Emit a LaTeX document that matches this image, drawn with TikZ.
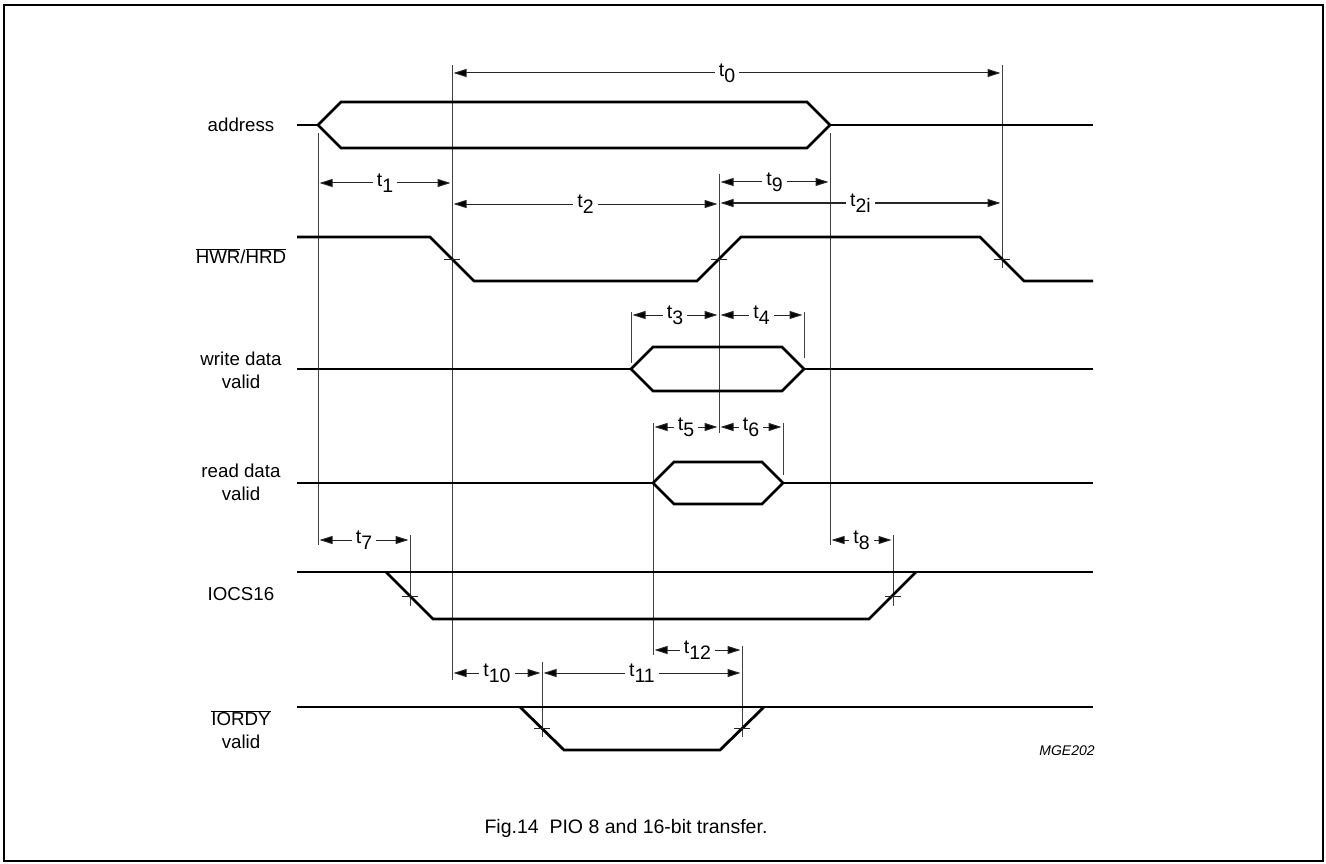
\documentclass[tikz,border=0pt]{standalone}
\usepackage{fontspec}
\setmainfont{Liberation Sans}
\usetikzlibrary{arrows.meta}
\newcommand{\ovl}[1]{$\overline{\mbox{#1}}$}
\newcommand{\tlbl}[1]{t\raisebox{-0.32em}{#1}}
\tikzset{
  sig/.style={line width=2.8pt, line join=miter, line cap=butt},
  vline/.style={line width=1pt, black!75},
  tick/.style={line width=1pt, black!85},
  dim/.style={line width=1pt, black!85,
    {Triangle[length=13pt,width=8pt,fill=black]}-{Triangle[length=13pt,width=8pt,fill=black]},
    shorten <=1.5pt, shorten >=1.5pt},
  tlab/.style={fill=white, inner xsep=4pt, inner ysep=1pt, anchor=base, yshift=-3.5pt,
    text=black, font=\fontsize{19.5}{22}\selectfont},
  siglab/.style={align=center, font=\fontsize{18.7}{23}\selectfont},
}
\begin{document}
\begin{tikzpicture}[x=1pt,y=-1pt]
\useasboundingbox (0,0) rectangle (1326,864);
\draw[line width=2pt] (4,5) rectangle (1323,861);

% signal names
\node[siglab] (ladr) at (241,125) {address};
\node[siglab] (lhwr) at (241,256) {\ovl{HWR}/\ovl{HRD}};
\node[siglab] (lwd) at (241,370) {write data\\valid};
\node[siglab] (lrd) at (241,482) {read data\\valid};
\node[siglab] (lio) at (241,594) {IOCS16};
\node[siglab] (lrdy) at (241,730) {\ovl{IORDY}\\valid};
\node[font=\fontsize{14}{16}\selectfont\itshape] (code) at (1067,751) {MGE202};
\node[font=\fontsize{19.5}{23}\selectfont] (cap) at (626,828) {Fig.14~~PIO 8 and 16-bit transfer.};

% reference verticals
\coordinate (At) at (318,133); \coordinate (Ab) at (318,545);
\coordinate (Bt) at (452,65);  \coordinate (Bb) at (452,680);
\coordinate (Ct) at (719,174); \coordinate (Cb) at (719,433);
\coordinate (Dt) at (830,133); \coordinate (Db) at (830,545);
\coordinate (Et) at (1002,65); \coordinate (Eb) at (1002,268);
\coordinate (Ft) at (631,312); \coordinate (Fb) at (631,363);
\coordinate (Gt) at (804,312); \coordinate (Gb) at (804,358);
\coordinate (Ht) at (653,423); \coordinate (Hb) at (653,655);
\coordinate (It) at (783,423); \coordinate (Ib) at (783,475);
\coordinate (Jt) at (410,535); \coordinate (Jb) at (410,606);
\coordinate (Kt) at (893,535); \coordinate (Kb) at (893,606);
\coordinate (Lt) at (542,662); \coordinate (Lb) at (542,737);
\coordinate (Mt) at (742,646); \coordinate (Mb) at (742,737);
\foreach \v in {A,B,C,D,E,F,G,H,I,J,K,L,M}
  \draw[vline] (\v t) -- (\v b);

% dimension arrows
\draw[dim] (452,73) -- node[tlab] {\tlbl{0}} (1002,73);
\draw[dim] (318,183) -- node[tlab] {\tlbl{1}} (452,183);
\draw[dim] (452,204) -- node[tlab] {\tlbl{2}} (719,204);
\draw[dim] (719,182) -- node[tlab] {\tlbl{9}} (830,182);
\draw[dim] (719,203) -- node[tlab] {\tlbl{2i}} (1002,203);
\draw[dim] (631,315) -- node[tlab] {\tlbl{3}} (719,315);
\draw[dim] (719,315) -- node[tlab] {\tlbl{4}} (804,315);
\draw[dim] (653,427) -- node[tlab] {\tlbl{5}} (719,427);
\draw[dim] (719,427) -- node[tlab] {\tlbl{6}} (783,427);
\draw[dim] (318,540) -- node[tlab] {\tlbl{7}} (410,540);
\draw[dim] (830,540) -- node[tlab] {\tlbl{8}} (893,540);
\draw[dim] (452,673) -- node[tlab] {\tlbl{10}} (542,673);
\draw[dim] (542,673) -- node[tlab] {\tlbl{11}} (742,673);
\draw[dim] (653,650) -- node[tlab] {\tlbl{12}} (742,650);

% signals
\draw[sig] (297,125) -- (318,125) (830,125) -- (1093,125);
\draw[sig] (318,125) -- (341,102) -- (807,102) -- (830,125) -- (807,148) -- (341,148) -- cycle;
\draw[sig] (297,237) -- (430,237) -- (474,281) -- (697,281) -- (741,237) -- (980,237) -- (1024,281) -- (1093,281);
\draw[sig] (297,369) -- (631,369) (804,369) -- (1093,369);
\draw[sig] (631,369) -- (653,347) -- (782,347) -- (804,369) -- (782,391) -- (653,391) -- cycle;
\draw[sig] (297,483) -- (653,483) (783,483) -- (1093,483);
\draw[sig] (653,483) -- (674,462) -- (762,462) -- (783,483) -- (762,504) -- (674,504) -- cycle;
\draw[sig] (297,572) -- (1093,572);
\draw[sig] (386,572) -- (433,619) -- (869,619) -- (916,572);
\draw[sig] (297,707) -- (1093,707);
\draw[sig] (520,707) -- (564,750) -- (720,750) -- (764,707);

% crossing ticks
\foreach \p in {(452,259),(719,259),(1002,259),(410,596),(893,596),(542,728),(742,728)}
  \draw[tick] \p ++(-8,0) -- ++(16,0);
\end{tikzpicture}
\end{document}
